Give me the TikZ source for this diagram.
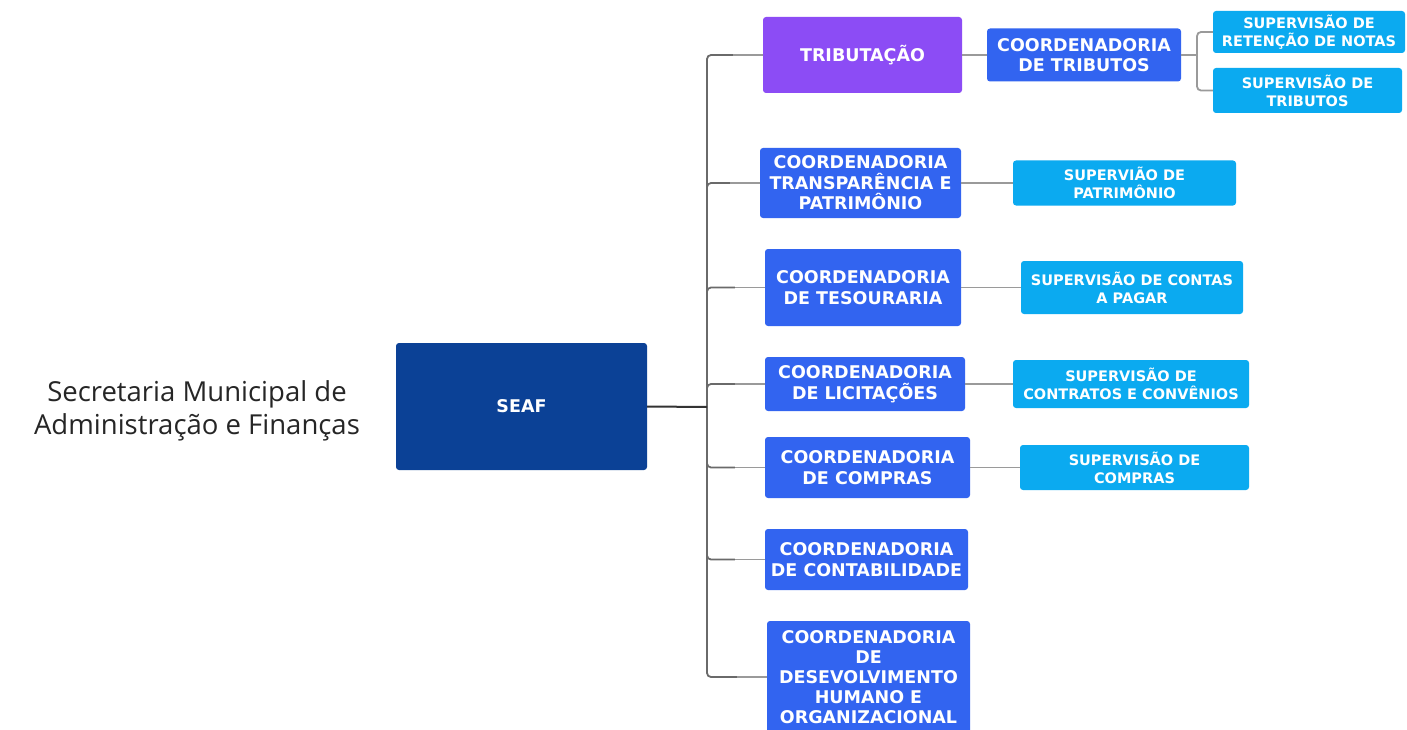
\documentclass[tikz,border=0pt]{standalone}
\usepackage{fontspec}
\newfontfamily\bx{DejaVu Sans}
\newfontfamily\ttl{Open Sans}
\definecolor{cnavy}{HTML}{0B4196}
\definecolor{cpurple}{HTML}{8C4CF5}
\definecolor{cblue}{HTML}{3264F0}
\definecolor{clight}{HTML}{0BAAF0}
\definecolor{lgray}{HTML}{9A9A9A}
\definecolor{dgray}{HTML}{6A6A6A}
\begin{document}
\begin{tikzpicture}[x=1pt,y=-1pt,
  box/.style={rectangle, rounded corners=3pt, inner sep=0pt, align=center, text=white,
    font=\bx\bfseries\fontsize{17.5}{20.5}\selectfont},
  mainbox/.style={box, fill=cblue},
  subbox/.style={box, fill=clight, font=\bx\bfseries\fontsize{14.5}{18}\selectfont},
  branch/.style={draw=lgray, line width=1.8pt, rounded corners=4pt},
  trunk/.style={draw=dgray, line width=1.8pt, rounded corners=4pt},
  rootlink/.style={draw=black!80, line width=2pt}
]
\fill[white] (0,0) rectangle (1407,730);
\useasboundingbox (0,0) rectangle (1407,730);

\node[font=\ttl\fontsize{27.5}{33}\selectfont, align=center, text=black!85] (title) at (197,411)
  {Secretaria Municipal de\\Administração e Finanças};

\node[box, fill=cnavy, minimum width=251pt, minimum height=127pt] (seaf) at (521.5,406.5) {SEAF};

\node[box, fill=cpurple, minimum width=199pt, minimum height=76pt] (trib) at (862.5,55) {TRIBUTAÇÃO};
\node[mainbox, minimum width=201pt, minimum height=70pt] (transp) at (860.5,183) {COORDENADORIA\\TRANSPARÊNCIA E\\PATRIMÔNIO};
\node[mainbox, minimum width=196pt, minimum height=77pt] (tesou) at (863,287.5) {COORDENADORIA\\DE TESOURARIA};
\node[mainbox, minimum width=200pt, minimum height=54pt] (licit) at (865,384) {COORDENADORIA\\DE LICITAÇÕES};
\node[mainbox, minimum width=205pt, minimum height=61pt] (compras) at (867.5,467.5) {COORDENADORIA\\DE COMPRAS};
\node[mainbox, minimum width=203pt, minimum height=61pt] (contab) at (866.5,559.5) {COORDENADORIA\\DE CONTABILIDADE};
\node[mainbox, minimum width=203pt, minimum height=112pt, font=\bx\bfseries\fontsize{17.5}{20}\selectfont] (desenv) at (868.5,677) {COORDENADORIA\\DE\\DESEVOLVIMENTO\\HUMANO E\\ORGANIZACIONAL};

\node[mainbox, minimum width=194pt, minimum height=53pt] (ctrib) at (1084,55) {COORDENADORIA\\DE TRIBUTOS};
\node[subbox, minimum width=192pt, minimum height=42pt] (supret) at (1309,32) {SUPERVISÃO DE\\RETENÇÃO DE NOTAS};
\node[subbox, minimum width=189pt, minimum height=45pt] (suptrib) at (1307.5,90.5) {SUPERVISÃO DE\\TRIBUTOS};
\node[subbox, minimum width=223pt, minimum height=45pt] (suppat) at (1124.5,183) {SUPERVIÃO DE\\PATRIMÔNIO};
\node[subbox, minimum width=222pt, minimum height=53pt] (supcontas) at (1132,287.5) {SUPERVISÃO DE CONTAS\\A PAGAR};
\node[subbox, minimum width=236pt, minimum height=48pt] (supcontr) at (1131,384) {SUPERVISÃO DE\\CONTRATOS E CONVÊNIOS};
\node[subbox, minimum width=229pt, minimum height=45pt] (supcomp) at (1134.5,467.5) {SUPERVISÃO DE\\COMPRAS};

\coordinate (tk) at (707,407);
\coordinate (bk) at (1197,55);

\foreach \c in {trib,transp,tesou,licit,compras,contab,desenv}{
  \draw[trunk] (tk) |- ([xshift=-30pt]\c.west);
  \draw[branch] ([xshift=-30pt]\c.west) -- (\c.west);
}
\draw[rootlink] (seaf.east) -- (tk);

\draw[branch] (trib.east) -- (ctrib.west);
\draw[branch] (transp.east) -- (suppat.west);
\draw[branch] (tesou.east) -- (supcontas.west);
\draw[branch] (licit.east) -- (supcontr.west);
\draw[branch] (compras.east) -- (supcomp.west);
\draw[branch] (ctrib.east) -- (bk);
\draw[branch] (bk) |- (supret.west);
\draw[branch] (bk) |- (suptrib.west);
\end{tikzpicture}
\end{document}
